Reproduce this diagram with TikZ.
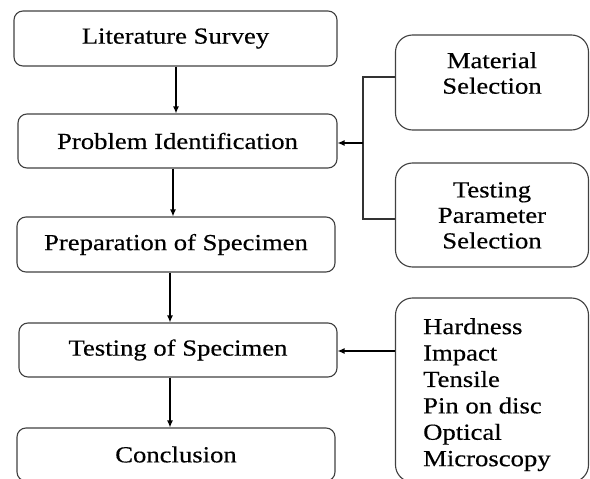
\documentclass[tikz,border=0pt]{standalone}
\usepackage{fontspec}
\setmainfont{Liberation Serif}[FakeStretch=1.16,FakeBold=0.4]
\usetikzlibrary{arrows.meta}
\begin{document}
\begin{tikzpicture}[x=1pt,y=-1pt,
  box/.style={draw=black!75, line width=1.1pt, rounded corners=9pt, inner sep=0pt,
              font=\fontsize{23}{25.5}\selectfont},
  rbox/.style={draw=black!75, line width=1.1pt, rounded corners=17pt, inner sep=0pt},
  txt/.style={inner sep=0pt, font=\fontsize{23}{25.5}\selectfont},
  arr/.style={draw=black, line width=1.2pt, -{Latex[length=7pt,width=6pt]}},
  conn/.style={draw=black!80, line width=1.1pt}]
\useasboundingbox (0,0) rectangle (590,479);
% left column
\node[box, minimum width=323pt, minimum height=55pt] (ls) at (175.5,38.5) {Literature Survey};
\node[box, minimum width=319pt, minimum height=54pt] (pi) at (177.5,141) {Problem Identification};
\node[box, minimum width=318pt, minimum height=55pt] (ps) at (176,244.5) {Preparation of Specimen};
\node[box, minimum width=318pt, minimum height=54pt] (ts) at (178,350) {Testing of Specimen};
\node[box, minimum width=318pt, minimum height=53pt] (cc) at (176,454.5) {Conclusion};
% right column
\node[rbox, minimum width=193pt, minimum height=95pt] (ms) at (492,82.5) {};
\node[txt, align=center, anchor=north] (mst) at (492,52) {Material\\Selection};
\node[rbox, minimum width=193pt, minimum height=104pt] (tp) at (492,215) {};
\node[txt, align=center, anchor=north] (tpt) at (492,182) {Testing\\Parameter\\Selection};
\node[rbox, minimum width=193pt, minimum height=184pt] (hd) at (492,390) {};
\node[txt, align=left, anchor=north west, font=\fontsize{23}{26.4}\selectfont] (hdt) at (423,318)
  {Hardness\\Impact\\Tensile\\Pin on disc\\Optical\\Microscopy};
% vertical arrows
\draw[arr] ([xshift=0.5pt]ls.south) -- ([xshift=0.5pt]ls.south |- pi.north);
\draw[arr] ([xshift=-4.5pt]pi.south) -- ([xshift=-4.5pt]pi.south |- ps.north);
\draw[arr] ([xshift=-6pt]ps.south) -- ([xshift=-6pt]ps.south |- ts.north);
\draw[arr] ([xshift=-8pt]ts.south) -- ([xshift=-8pt]ts.south |- cc.north);
% bracket from right boxes
\coordinate (bt) at (363,77);
\coordinate (bb) at (363,219);
\coordinate (bm) at (363,143);
\draw[conn] (ms.west |- bt) -- (bt) -- (bb) -- (tp.west |- bb);
\draw[arr] (bm) -- (pi.east |- bm);
\draw[arr] (hd.west |- 0,351) -- (ts.east |- 0,351);
\end{tikzpicture}
\end{document}
